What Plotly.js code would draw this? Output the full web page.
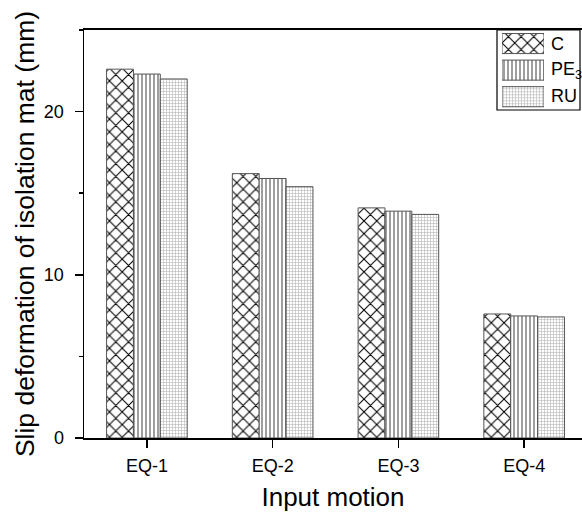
<!DOCTYPE html>
<html>
<head>
<meta charset="utf-8">
<script src="https://cdn.plot.ly/plotly-3.0.1.min.js"></script>
<style>
  html, body { margin: 0; padding: 0; background: #fff; }
  #chart { width: 582px; height: 517px; }
</style>
</head>
<body>
<div id="chart"></div>
<script>
// Slip deformation of the isolation mat for each input motion
const motions = ['EQ-1', 'EQ-2', 'EQ-3', 'EQ-4'];
const slipC   = [22.6, 16.2, 14.1, 7.6];
const slipPE3 = [22.3, 15.9, 13.9, 7.48];
const slipRU  = [22.0, 15.4, 13.7, 7.42];

// Legend entries (drawn as a small inset panel of patterned swatches)
const legendLabels = ['C', 'PE<sub>3</sub>', 'RU'];
const legendSlots  = [0, 1, 2];
const legendFill   = [1, 1, 1];

const FONT = 'Liberation Sans, Arial, sans-serif';
const OUTLINE = { color: '#555', width: 1 };

const patC  = { shape: 'x', fgcolor: '#000', bgcolor: '#fff', size: 9, solidity: 0.22 };
const patPE = { shape: '|', fgcolor: '#222', bgcolor: '#fff', size: 4, solidity: 0.22 };
const patRU = { shape: '+', fgcolor: '#b4b4b4', bgcolor: '#fff', size: 3, solidity: 0.35 };

const traces = [
  { type: 'bar', name: 'C', x: motions, y: slipC,
    marker: { color: '#fff', line: OUTLINE, pattern: patC }, showlegend: false },
  { type: 'bar', name: 'PE3', x: motions, y: slipPE3,
    marker: { color: '#fff', line: OUTLINE, pattern: patPE }, showlegend: false },
  { type: 'bar', name: 'RU', x: motions, y: slipRU,
    marker: { color: '#fff', line: OUTLINE, pattern: patRU }, showlegend: false },
  // legend swatches
  { type: 'bar', orientation: 'h', x: legendFill, y: legendSlots,
    xaxis: 'x2', yaxis: 'y2', width: 0.755, offset: -0.3775,
    hoverinfo: 'skip', showlegend: false,
    marker: {
      color: '#fff', line: OUTLINE,
      pattern: {
        shape: [patC.shape, patPE.shape, patRU.shape],
        fgcolor: [patC.fgcolor, patPE.fgcolor, patRU.fgcolor],
        bgcolor: '#fff',
        size: [patC.size, patPE.size, patRU.size],
        solidity: [patC.solidity, patPE.solidity, patRU.solidity]
      }
    }
  }
];

// plot area: x 84..582, y 30..438
const L = 84, T = 30, B = 438, R = 582;
const px = v => (v - L) / (R - L);
const py = v => (B - v) / (B - T);

const legendCenters = [43.5, 70, 96.5];
const annotations = legendLabels.map((t, i) => ({
  xref: 'paper', yref: 'paper', x: px(549), y: py(legendCenters[i]),
  xanchor: 'left', yanchor: 'middle', showarrow: false,
  text: t, font: { family: FONT, size: 18, color: '#000' }
}));

const layout = {
  width: 582, height: 517,
  margin: { l: L, r: 0, t: T, b: 517 - B },
  paper_bgcolor: '#fff', plot_bgcolor: '#fff',
  barmode: 'group', bargap: 0.359, bargroupgap: 0,
  showlegend: false,
  font: { family: FONT, color: '#000' },
  xaxis: {
    range: [-0.5, 3.46], type: 'category',
    showline: true, linecolor: '#000', linewidth: 2, mirror: true,
    ticks: 'outside', ticklen: 8, tickwidth: 1.5, tickcolor: '#000',
    ticklabelstandoff: 2,
    showgrid: false, zeroline: false,
    tickfont: { family: FONT, size: 18, color: '#000' },
    title: { text: 'Input motion', font: { family: FONT, size: 26, color: '#000' }, standoff: 13 }
  },
  yaxis: {
    range: [0, 25], tickvals: [0, 10, 20],
    showline: true, linecolor: '#000', linewidth: 1.5,
    ticks: 'outside', ticklen: 8, tickwidth: 1.5, tickcolor: '#000',
    ticklabelstandoff: 7,
    minor: { tickvals: [5, 15, 25], ticks: 'outside', ticklen: 4, tickwidth: 1.5, tickcolor: '#000' },
    showgrid: false, zeroline: false,
    tickfont: { family: FONT, size: 18, color: '#000' },
    title: { text: 'Slip deformation of isolation mat (mm)', font: { family: FONT, size: 26.5, color: '#000' }, standoff: 1 }
  },
  xaxis2: {
    domain: [px(502), px(544)], range: [0, 1], anchor: 'y2',
    visible: false, fixedrange: true
  },
  yaxis2: {
    domain: [py(110), py(30.25)], range: [2.5, -0.5], anchor: 'x2',
    visible: false, fixedrange: true
  },
  shapes: [
    { type: 'rect', xref: 'paper', yref: 'paper',
      x0: px(497), x1: px(580), y0: py(110), y1: 1,
      line: { color: '#000', width: 1.2 }, fillcolor: 'rgba(0,0,0,0)' }
  ],
  annotations: annotations
};

Plotly.newPlot('chart', traces, layout, { staticPlot: true, displayModeBar: false });
</script>
</body>
</html>
